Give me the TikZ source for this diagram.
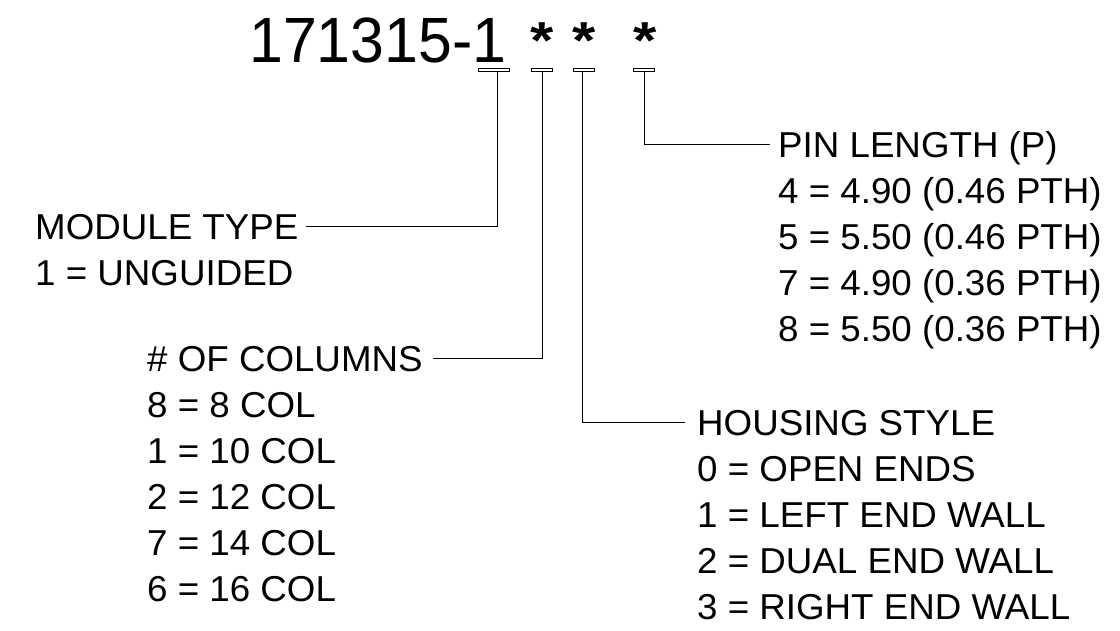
\documentclass[tikz,border=0pt]{standalone}
\usepackage{fontspec}
\setmainfont{Liberation Sans}
\newfontfamily\lblfont[FakeStretch=1.02]{Liberation Sans}
\newfontfamily\ttlfont[FakeStretch=0.95]{Liberation Sans}
\newfontfamily\starfont[FakeStretch=1.15]{Liberation Sans Bold}
\begin{document}
\begin{tikzpicture}[x=1pt,y=-1pt,
  lbl/.style={anchor=base west, inner sep=0pt, font=\lblfont\fontsize{36}{36}\selectfont},
  ttl/.style={anchor=base west, inner sep=0pt, font=\ttlfont\fontsize{64}{64}\selectfont},
  star/.style={anchor=base, inner sep=0pt, font=\starfont\fontsize{52}{52}\selectfont},
  tab/.style={draw, line width=0.9pt, minimum height=3pt, inner sep=0pt},
  conn/.style={line width=0.9pt}]
\useasboundingbox (0,0) rectangle (1120,630);
% title
\node[ttl] (title) at (249,62) {171315-1};
\node[star] (s1) at (542.5,58) {*};
\node[star] (s2) at (584,58) {*};
\node[star] (s3) at (645,58) {*};
% tabs
\node[tab, minimum width=31pt] (t1) at (493.5,70) {};
\node[tab, minimum width=21pt] (t2) at (541.5,70) {};
\node[tab, minimum width=21pt] (t3) at (583.5,70) {};
\node[tab, minimum width=21pt] (t4) at (643.5,70) {};
% connector ends
\coordinate (c1) at (306,226);
\coordinate (c2) at (433,358);
\coordinate (c3) at (685,422);
\coordinate (c4) at (770,144);
\draw[conn] ([xshift=3.5pt]t1.south) |- (c1);
\draw[conn] ([xshift=0.5pt]t2.south) |- (c2);
\draw[conn] ([xshift=-1.5pt]t3.south) |- (c3);
\draw[conn] ([xshift=0.5pt]t4.south) |- (c4);
% module type
\node[lbl] (m0) at (35,239) {MODULE TYPE};
\node[lbl] (m1) at (35,285) {1 = UNGUIDED};
% columns
\node[lbl] (k0) at (147,371) {\# OF COLUMNS};
\node[lbl] (k1) at (147,417) {8 = 8 COL};
\node[lbl] (k2) at (147,463) {1 = 10 COL};
\node[lbl] (k3) at (147,509) {2 = 12 COL};
\node[lbl] (k4) at (147,555) {7 = 14 COL};
\node[lbl] (k5) at (147,601) {6 = 16 COL};
% pin length
\node[lbl] (p0) at (778,157) {PIN LENGTH (P)};
\node[lbl] (p1) at (778,203) {4 = 4.90 (0.46 PTH)};
\node[lbl] (p2) at (778,249) {5 = 5.50 (0.46 PTH)};
\node[lbl] (p3) at (778,295) {7 = 4.90 (0.36 PTH)};
\node[lbl] (p4) at (778,341) {8 = 5.50 (0.36 PTH)};
% housing style
\node[lbl] (h0) at (697,435) {HOUSING STYLE};
\node[lbl] (h1) at (697,481) {0 = OPEN ENDS};
\node[lbl] (h2) at (697,527) {1 = LEFT END WALL};
\node[lbl] (h3) at (697,573) {2 = DUAL END WALL};
\node[lbl] (h4) at (697,619) {3 = RIGHT END WALL};
\end{tikzpicture}
\end{document}
